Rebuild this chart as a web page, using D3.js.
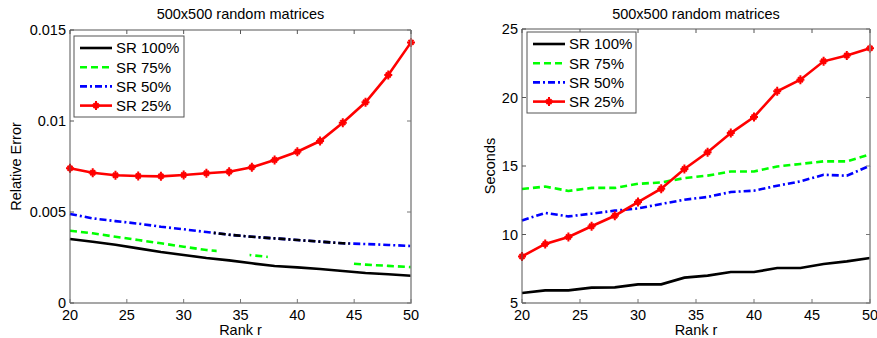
<!DOCTYPE html>
<html>
<head>
<meta charset="utf-8">
<script src="https://cdn.jsdelivr.net/npm/d3@7"></script>
<style>
  body { margin: 0; background: #fff; }
  svg { display: block; font-family: "Liberation Sans", Arial, sans-serif; }
</style>
</head>
<body>
<svg id="chart" width="877" height="338"></svg>
<script>
// ranks on the x axis
const ranks = [20, 22, 24, 26, 28, 30, 32, 34, 36, 38, 40, 42, 44, 46, 48, 50];

// relative error (left panel)
const errSR100 = [0.00352, 0.00337, 0.0032, 0.0030, 0.0028, 0.00264, 0.00247, 0.00234, 0.00218, 0.00203, 0.00196, 0.00187, 0.00176, 0.00165, 0.00158, 0.0015];
const errSR75  = [0.00397, 0.00383, 0.00364, 0.00346, 0.00328, 0.00309, 0.00291, 0.0028, 0.00262, 0.0025, 0.0024, 0.0023, 0.0022, 0.00211, 0.00204, 0.00197];
const errSR50  = [0.00489, 0.00465, 0.0045, 0.00436, 0.00419, 0.00405, 0.0039, 0.00375, 0.00364, 0.00355, 0.00346, 0.00337, 0.00328, 0.00324, 0.00319, 0.00313];
const errSR25  = [0.0074, 0.00716, 0.00702, 0.00698, 0.00696, 0.00703, 0.00713, 0.00721, 0.00746, 0.00786, 0.00831, 0.0089, 0.00991, 0.01103, 0.01253, 0.01432];

// run time in seconds (right panel)
const secSR100 = [5.73, 5.92, 5.92, 6.12, 6.14, 6.36, 6.36, 6.85, 7.0, 7.26, 7.26, 7.55, 7.55, 7.85, 8.04, 8.28];
const secSR75  = [13.32, 13.5, 13.18, 13.4, 13.4, 13.7, 13.8, 14.12, 14.3, 14.6, 14.6, 14.97, 15.15, 15.34, 15.34, 15.85];
const secSR50  = [11.03, 11.57, 11.32, 11.52, 11.74, 11.9, 12.23, 12.54, 12.74, 13.1, 13.2, 13.56, 13.88, 14.36, 14.29, 15.02];
const secSR25  = [8.4, 9.31, 9.82, 10.6, 11.37, 12.37, 13.34, 14.78, 16.0, 17.4, 18.58, 20.45, 21.3, 22.64, 23.07, 23.6];

const legendLabels = ['SR 100%', 'SR 75%', 'SR 50%', 'SR 25%'];
const xTicks = [20, 25, 30, 35, 40, 45, 50];
const errTicks = [0, 0.005, 0.01, 0.015];
const errTickLabels = ['0', '0.005', '0.01', '0.015'];
const secTicks = [5, 10, 15, 20, 25];

// rendering glitches of the original figure (rank ranges)
const errSR75Visible = [[20, 32.9], [35.8, 37.4], [44.8, 50]];
const errSR50DarkRange = [32.6, 44.6];

const styles = [
  { color: '#000000', dash: null },
  { color: '#00ff00', dash: '7,4' },
  { color: '#0000ff', dash: '7,3,2,3' },
  { color: '#ff0000', dash: null, marker: true }
];

const svg = d3.select('#chart');
const defs = svg.append('defs');

function drawPanel(opt) {
  const x = d3.scaleLinear().domain([20, 50]).range([opt.left, opt.right]);
  const y = d3.scaleLinear().domain(opt.yDomain).range([opt.bottom, opt.top]);
  const g = svg.append('g');
  const tickLen = 4;

  // title
  g.append('text')
    .attr('x', (opt.left + opt.right) / 2)
    .attr('y', 19)
    .attr('text-anchor', 'middle')
    .attr('font-size', '14.5px')
    .text('500x500 random matrices');

  // lines
  const line = d3.line().x((d, i) => x(ranks[i])).y(d => y(d));
  const lines = g.append('g');

  opt.series.forEach((vals, i) => {
    const st = styles[i];
    let path = lines.append('path')
      .datum(vals)
      .attr('d', line)
      .attr('fill', 'none')
      .attr('stroke', st.color)
      .attr('stroke-width', 2.6)
      .attr('stroke-dasharray', st.dash);

    if (opt.clips && opt.clips[i]) {
      const id = opt.id + '-clip' + i;
      const cp = defs.append('clipPath').attr('id', id);
      opt.clips[i].forEach(r => {
        cp.append('rect')
          .attr('x', x(r[0])).attr('width', x(r[1]) - x(r[0]))
          .attr('y', 0).attr('height', 338);
      });
      path.attr('clip-path', `url(#${id})`);
    }

    if (opt.dark && opt.dark[i]) {
      const id = opt.id + '-dark' + i;
      const r = opt.dark[i];
      defs.append('clipPath').attr('id', id).append('rect')
        .attr('x', x(r[0])).attr('width', x(r[1]) - x(r[0]))
        .attr('y', 0).attr('height', 338);
      lines.append('path')
        .datum(vals)
        .attr('d', line)
        .attr('fill', 'none')
        .attr('stroke', '#000')
        .attr('stroke-width', 2.6)
        .attr('stroke-dasharray', st.dash)
        .attr('clip-path', `url(#${id})`);
    }

    if (st.marker) {
      lines.selectAll(null)
        .data(vals)
        .enter().append('path')
        .attr('transform', (d, k) => `translate(${x(ranks[k])},${y(d)})`)
        .attr('d', 'M-4,0H4M0,-4.5V4.5M-2.5,-2.5L2.5,2.5M-2.5,2.5L2.5,-2.5')
        .attr('stroke', st.color)
        .attr('stroke-width', 2);
    }
  });

  // frame: top/left darker, bottom/right lighter gray as in the original
  g.append('path')
    .attr('d', `M${opt.left},${opt.bottom}V${opt.top}H${opt.right}`)
    .attr('fill', 'none').attr('stroke', '#555').attr('stroke-width', 1);
  g.append('path')
    .attr('d', `M${opt.left},${opt.bottom}H${opt.right}V${opt.top}`)
    .attr('fill', 'none').attr('stroke', '#8a8a8a').attr('stroke-width', 1.5);

  // x ticks (bottom and top, inward)
  xTicks.forEach(t => {
    const px = x(t);
    g.append('line').attr('x1', px).attr('x2', px)
      .attr('y1', opt.bottom).attr('y2', opt.bottom - tickLen).attr('stroke', '#777');
    g.append('line').attr('x1', px).attr('x2', px)
      .attr('y1', opt.top).attr('y2', opt.top + tickLen).attr('stroke', '#555');
    g.append('text')
      .attr('x', px).attr('y', opt.bottom + 17)
      .attr('text-anchor', 'middle')
      .attr('font-size', '14.5px')
      .text(t);
  });

  // y ticks (left and right, inward)
  opt.yTicks.forEach((t, i) => {
    const py = y(t);
    g.append('line').attr('x1', opt.left).attr('x2', opt.left + tickLen)
      .attr('y1', py).attr('y2', py).attr('stroke', '#555');
    g.append('line').attr('x1', opt.right).attr('x2', opt.right - tickLen)
      .attr('y1', py).attr('y2', py).attr('stroke', '#777');
    g.append('text')
      .attr('x', opt.left - 4).attr('y', py + 5)
      .attr('text-anchor', 'end')
      .attr('font-size', '14.5px')
      .text(opt.yTickLabels ? opt.yTickLabels[i] : t);
  });

  // axis labels
  g.append('text')
    .attr('x', (opt.left + opt.right) / 2).attr('y', 335)
    .attr('text-anchor', 'middle')
    .attr('font-size', '14.5px')
    .text('Rank r');
  g.append('text')
    .attr('transform', `translate(${opt.yLabelX},${(opt.top + opt.bottom) / 2}) rotate(-90)`)
    .attr('text-anchor', 'middle')
    .attr('font-size', '14.5px')
    .text(opt.yLabel);

  // legend
  const lg = g.append('g');
  lg.append('rect')
    .attr('x', opt.legend.x).attr('y', opt.legend.y)
    .attr('width', opt.legend.w).attr('height', 81)
    .attr('fill', '#fff')
    .attr('stroke', '#555');
  legendLabels.forEach((lab, i) => {
    const ly = opt.legend.y + 12 + i * 19.2;
    const x0 = opt.legend.x + 6, x1 = opt.legend.x + 38;
    const st = styles[i];
    lg.append('line')
      .attr('x1', x0).attr('x2', x1).attr('y1', ly).attr('y2', ly)
      .attr('stroke', st.color).attr('stroke-width', 2.6)
      .attr('stroke-dasharray', st.dash);
    if (st.marker) {
      lg.append('path')
        .attr('transform', `translate(${(x0 + x1) / 2},${ly})`)
        .attr('d', 'M-4,0H4M0,-4.5V4.5M-2.5,-2.5L2.5,2.5M-2.5,2.5L2.5,-2.5')
        .attr('stroke', st.color).attr('stroke-width', 2);
    }
    lg.append('text')
      .attr('x', opt.legend.x + 42).attr('y', ly + 5.3)
      .attr('font-size', '15px')
      .text(lab);
  });
}

drawPanel({
  id: 'err',
  left: 70, right: 411, top: 30, bottom: 303,
  yDomain: [0, 0.015],
  yTicks: errTicks,
  yTickLabels: errTickLabels,
  yLabel: 'Relative Error',
  yLabelX: 21,
  series: [errSR100, errSR75, errSR50, errSR25],
  clips: [null, errSR75Visible, null, null],
  dark: [null, null, errSR50DarkRange, null],
  legend: { x: 74, y: 36, w: 110 }
});

drawPanel({
  id: 'sec',
  left: 522, right: 870, top: 29, bottom: 303,
  yDomain: [5, 25],
  yTicks: secTicks,
  yLabel: 'Seconds',
  yLabelX: 495,
  series: [secSR100, secSR75, secSR50, secSR25],
  legend: { x: 527, y: 32, w: 109 }
});
</script>
</body>
</html>
